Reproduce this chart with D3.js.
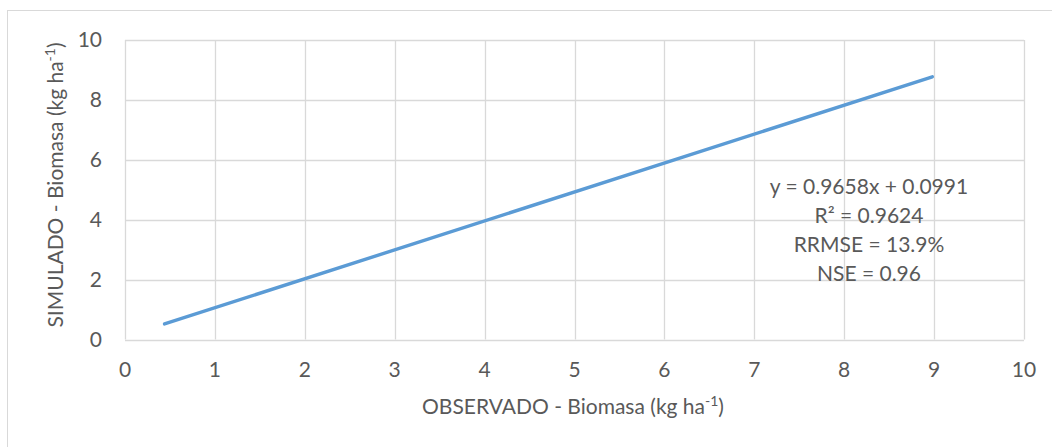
<!DOCTYPE html>
<html><head><meta charset="utf-8">
<script src="https://cdn.jsdelivr.net/npm/d3@7"></script>
<style>body{margin:0;background:#fff}</style>
</head><body>
<svg id="c" width="1052" height="447"></svg>
<script>
const xObs = [0.44, 8.98];
const ySim = [0.52, 8.77];
const xTicks = [0,1,2,3,4,5,6,7,8,9,10];
const yTicks = [0,2,4,6,8,10];
const annotation = ["y = 0.9658x + 0.0991", "R² = 0.9624", "RRMSE = 13.9%", "NSE = 0.96"];

const svg = d3.select("#c");
const font = "Lato, 'Open Sans', sans-serif";
const tc = "#595959";
svg.append("rect").attr("x",7.5).attr("y",10.5).attr("width",1060).attr("height",460)
  .attr("fill","none").attr("stroke","#d9d9d9").attr("stroke-width",1);

const x = d3.scaleLinear().domain([0,10]).range([125,1024]);
const y = d3.scaleLinear().domain([0,10]).range([339.5,40]);

const g = svg.append("g");
g.selectAll(".vx").data(xTicks).enter().append("line")
  .attr("x1",d=>Math.round(x(d))+0.5).attr("x2",d=>Math.round(x(d))+0.5)
  .attr("y1",y(10)).attr("y2",y(0)).attr("stroke","#d9d9d9").attr("stroke-width",1.3);
g.selectAll(".hy").data(yTicks).enter().append("line")
  .attr("y1",d=>Math.round(y(d))+0.5).attr("y2",d=>Math.round(y(d))+0.5)
  .attr("x1",x(0)).attr("x2",x(10)).attr("stroke","#d9d9d9").attr("stroke-width",1.3);

g.selectAll(".xl").data(xTicks).enter().append("text")
  .attr("x",d=>x(d)).attr("y",377).attr("text-anchor","middle")
  .attr("font-family",font).attr("font-size",21).attr("fill",tc).text(d=>d);
g.selectAll(".yl").data(yTicks).enter().append("text")
  .attr("x",102).attr("y",d=>y(d)+7).attr("text-anchor","end")
  .attr("font-family",font).attr("font-size",21).attr("fill",tc).text(d=>d);

const pts = xObs.map((v,i)=>[v,ySim[i]]);
svg.append("path").datum(pts)
  .attr("d",d3.line().x(d=>x(d[0])).y(d=>y(d[1])))
  .attr("fill","none").attr("stroke","#5b9bd5").attr("stroke-width",3.4).attr("stroke-linecap","round");

const xt = svg.append("text").attr("x",573).attr("y",414).attr("text-anchor","middle")
  .attr("font-family",font).attr("font-size",21).attr("fill",tc);
xt.append("tspan").text("OBSERVADO - Biomasa (kg ha");
xt.append("tspan").attr("font-size",14).attr("dy",-8).text("-1");
xt.append("tspan").attr("dy",8).text(")");

const yt = svg.append("text").attr("transform","translate(63,185) rotate(-90)").attr("text-anchor","middle")
  .attr("font-family",font).attr("font-size",21).attr("fill",tc);
yt.append("tspan").text("SIMULADO - Biomasa (kg ha");
yt.append("tspan").attr("font-size",14).attr("dy",-8).text("-1");
yt.append("tspan").attr("dy",8).text(")");

svg.selectAll(".ann").data(annotation).enter().append("text")
  .attr("x",869).attr("y",(d,i)=>194+i*29).attr("text-anchor","middle")
  .attr("font-family",font).attr("font-size",21).attr("fill",tc).text(d=>d);
</script>
</body></html>
